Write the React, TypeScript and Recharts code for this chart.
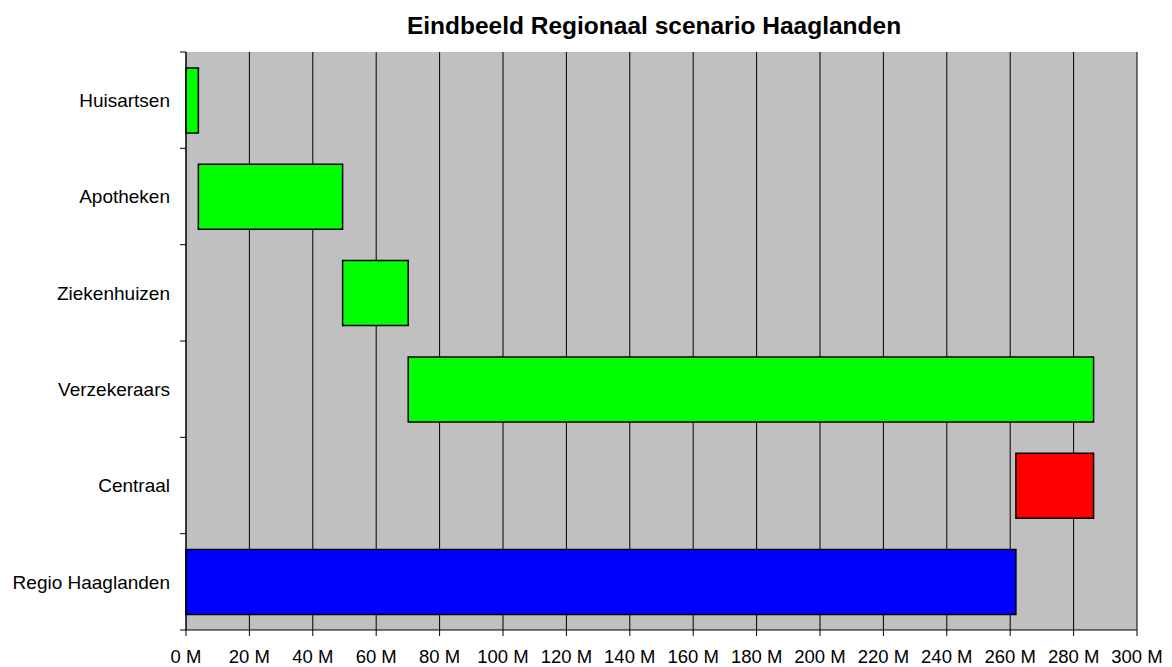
import React from "react";
import {
  BarChart,
  Bar,
  XAxis,
  YAxis,
  CartesianGrid,
  Cell,
} from "recharts";

const categories = [
  "Huisartsen",
  "Apotheken",
  "Ziekenhuizen",
  "Verzekeraars",
  "Centraal",
  "Regio Haaglanden",
];
// start of each bar (M)
const starts = [0, 3.9, 49.4, 70.1, 261.8, 0];
// length of each bar (M)
const amounts = [3.9, 45.5, 20.7, 216.2, 24.5, 261.8];
const colors = ["#00ff00", "#00ff00", "#00ff00", "#00ff00", "#ff0000", "#0000ff"];
const xTicks = [0, 20, 40, 60, 80, 100, 120, 140, 160, 180, 200, 220, 240, 260, 280, 300];

const data = categories.map((name, i) => ({
  name,
  start: starts[i],
  amount: amounts[i],
}));

const FONT = "'Liberation Sans', Arial, sans-serif";

const CategoryTick = (props: any) => {
  const { x, y, payload, height, visibleTicksCount, index } = props;
  const band = height && visibleTicksCount ? height / visibleTicksCount : 578 / 6;
  const axisX = x + 16;
  return (
    <g>
      <line x1={axisX - 6} x2={axisX} y1={y - band / 2} y2={y - band / 2} stroke="#000" />
      {index === visibleTicksCount - 1 && (
        <line x1={axisX - 6} x2={axisX} y1={y + band / 2} y2={y + band / 2} stroke="#000" />
      )}
      <text x={x} y={y} dy="0.355em" textAnchor="end" fill="#000" fontSize={19} fontFamily={FONT}>
        {payload.value}
      </text>
    </g>
  );
};

const App = () => {
  return (
    <div style={{ position: "absolute", left: 0, top: 0, width: 1172, height: 667, background: "#fff" }}>
      <BarChart
        width={1172}
        height={667}
        data={data}
        layout="vertical"
        margin={{ top: 52, right: 35, left: 0, bottom: 0 }}
        barCategoryGap="16.5%"
      >
        <CartesianGrid horizontal={false} stroke="#000" fill="#c0c0c0" fillOpacity={1} />
        <XAxis
          type="number"
          domain={[0, 300]}
          ticks={xTicks}
          interval={0}
          height={37}
          tickFormatter={(v: number) => `${v} M`}
          tick={{ fill: "#000", fontSize: 18.5, fontFamily: FONT }}
          tickSize={6}
          tickMargin={14}
          axisLine={{ stroke: "#000" }}
          tickLine={{ stroke: "#000" }}
        />
        <XAxis
          xAxisId="top"
          orientation="top"
          type="number"
          domain={[0, 300]}
          height={0}
          tick={false}
          tickLine={false}
          axisLine={{ stroke: "#808080" }}
        />
        <YAxis
          type="category"
          dataKey="name"
          width={186}
          tickSize={6}
          tickMargin={10}
          tickLine={false}
          axisLine={{ stroke: "#000" }}
          tick={<CategoryTick />}
          interval={0}
        />
        <YAxis
          yAxisId="right"
          orientation="right"
          type="category"
          dataKey="name"
          width={0}
          tick={false}
          tickLine={false}
          axisLine={{ stroke: "#808080" }}
        />
        <Bar dataKey="start" stackId="a" fill="transparent" stroke="none" isAnimationActive={false} />
        <Bar dataKey="amount" stackId="a" stroke="#000" strokeWidth={1.5} isAnimationActive={false}>
          {data.map((d, i) => (
            <Cell key={d.name} fill={colors[i]} />
          ))}
        </Bar>
      </BarChart>
      <svg
        width={1172}
        height={50}
        style={{ position: "absolute", left: 0, top: 0, pointerEvents: "none" }}
      >
        <text x={654} y={34} textAnchor="middle" fontSize={24.5} fontWeight="bold" fontFamily={FONT} fill="#000">
          Eindbeeld Regionaal scenario Haaglanden
        </text>
      </svg>
    </div>
  );
};

export default App;
